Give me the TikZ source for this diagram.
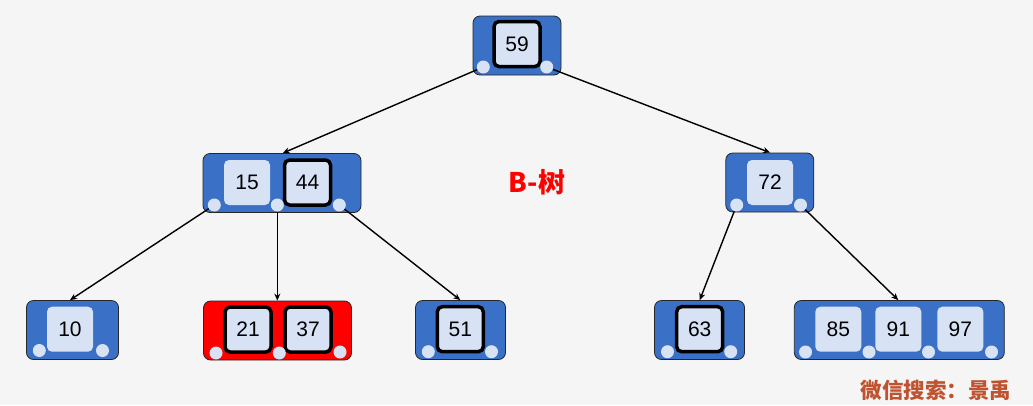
\documentclass[tikz,border=0pt]{standalone}
\usepackage{fontspec}
\setmainfont{Liberation Sans}
\newfontfamily\cjk{Noto Sans CJK SC}
\usetikzlibrary{arrows.meta}
\definecolor{bg}{HTML}{F5F5F5}
\definecolor{nblue}{HTML}{3A70C6}
\definecolor{kfill}{HTML}{D8E2F5}
\definecolor{wm}{HTML}{C0532F}
\tikzset{
  bnode/.style={draw=black!85, fill=nblue, rounded corners=7, line width=0.8, inner sep=0, minimum height=59},
  rnode/.style={bnode, fill=red},
  key/.style={fill=kfill, rounded corners=5, minimum width=46, minimum height=45, inner sep=0, font=\fontsize{21}{21}\selectfont},
  hkey/.style={key, draw=black, line width=3.5, minimum width=46, minimum height=45},
  dot/.style={circle, fill=kfill, minimum size=13, inner sep=0},
  edge/.style={line width=1.4, -{Stealth[length=7,width=6]}}
}
\begin{document}
\begin{tikzpicture}[x=1pt,y=-1pt]
\fill[bg] (0,0) rectangle (1033,405);
\useasboundingbox (0,0) rectangle (1033,405);
% root
\node[bnode, minimum width=88] (R) at (517,45.5) {};
\node[hkey] (k59) at (517,44) {59};
\node[dot] (r1) at (483.3,67) {};
\node[dot] (r2) at (546.7,67) {};
% level 2 left
\node[bnode, minimum width=158] (A) at (282,183) {};
\node[key] (k15) at (247,182.5) {15};
\node[hkey] (k44) at (307.5,182.5) {44};
\node[dot] (a1) at (214.3,205) {};
\node[dot] (a2) at (277.3,205) {};
\node[dot] (a3) at (339.3,205) {};
% level 2 right
\node[bnode, minimum width=88] (B) at (769.8,182.5) {};
\node[key] (k72) at (770,182.5) {72};
\node[dot] (b1) at (736.7,205) {};
\node[dot] (b2) at (800.5,205) {};
% level 3
\node[bnode, minimum width=92] (C1) at (72.5,330) {};
\node[key] (k10) at (70,329.2) {10};
\node[dot] (c11) at (39.3,350.5) {};
\node[dot] (c12) at (102.5,350.5) {};

\node[rnode, minimum width=148] (C2) at (277.5,330.5) {};
\node[hkey] (k21) at (248,329.5) {21};
\node[hkey] (k37) at (308,329.5) {37};
\node[dot] (c21) at (216,353) {};
\node[dot] (c22) at (279.3,353) {};
\node[dot] (c23) at (340,352) {};

\node[bnode, minimum width=90] (C3) at (460.5,330) {};
\node[hkey] (k51) at (460.3,329.2) {51};
\node[dot] (c31) at (428.3,351.7) {};
\node[dot] (c32) at (491.5,351.7) {};

\node[bnode, minimum width=90] (C4) at (699.5,330) {};
\node[hkey] (k63) at (699.7,329.2) {63};
\node[dot] (c41) at (667.5,351.7) {};
\node[dot] (c42) at (730.7,351.7) {};

\node[bnode, minimum width=210] (C5) at (899.3,330) {};
\node[key] (k85) at (838.3,329.2) {85};
\node[key] (k91) at (898.3,329.2) {91};
\node[key] (k97) at (960.3,329.2) {97};
\node[dot] (c51) at (805.5,352) {};
\node[dot] (c52) at (869,352) {};
\node[dot] (c53) at (928.5,352) {};
\node[dot] (c54) at (991.5,352) {};
% edges
\draw[edge] (r1) -- (A.north -| k44.west);
\draw[edge] (r2) -- (B.north -| k72);
\draw[edge] (a1) -- (C1.north -| k10);
\draw[edge] (a2) -- (C2.north -| a2);
\draw[edge] (a3) -- (C3.north -| k51);
\draw[edge] (b1) -- (C4.north -| k63);
\draw[edge] (b2) -- (C5.north -| k91);
% labels
\node[text=red, font=\cjk\bfseries\fontsize{27}{27}\selectfont] (title) at (537,182) {B-树};
\node[text=wm, font=\cjk\bfseries\fontsize{21.5}{21.5}\selectfont, inner sep=0] (wmark) at (936,390) {微信搜索：景禹};
\end{tikzpicture}
\end{document}
